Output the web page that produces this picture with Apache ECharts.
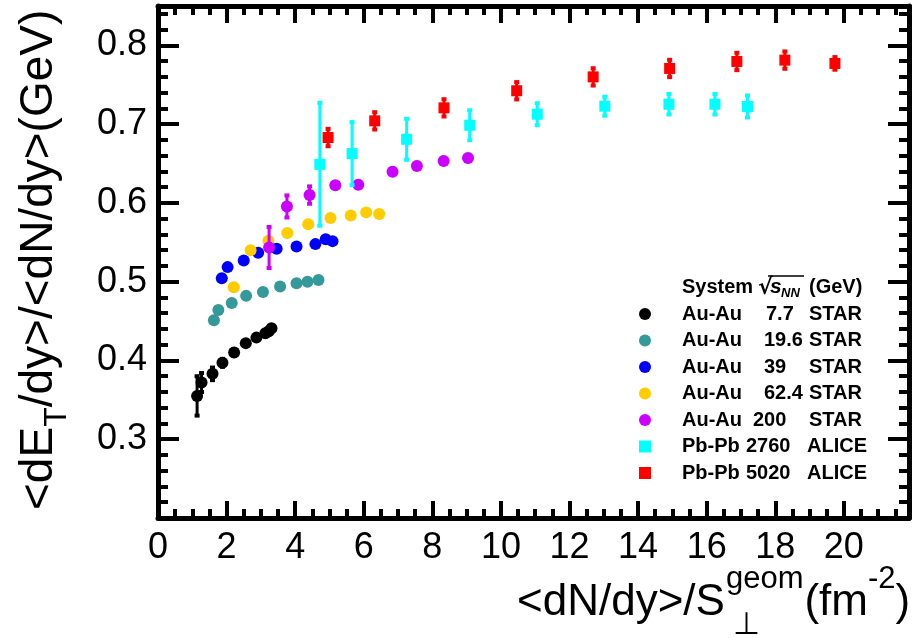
<!DOCTYPE html>
<html><head><meta charset="utf-8">
<script src="https://cdn.jsdelivr.net/npm/echarts@6/dist/echarts.min.js"></script>
<style>html,body{margin:0;padding:0;background:#fff}#c{width:915px;height:638px}</style>
</head><body><div id="c"></div>
<script>
// ---- data ----
const systems = ['Au-Au','Au-Au','Au-Au','Au-Au','Au-Au','Pb-Pb','Pb-Pb'];
const energies = ['7.7','19.6','39','62.4','200','2760','5020'];
const experiments = ['STAR','STAR','STAR','STAR','STAR','ALICE','ALICE'];

const x_7p7 = [1.14, 1.27, 1.59, 1.88, 2.22, 2.56, 2.87, 3.13, 3.23, 3.31];
const y_7p7 = [0.355, 0.372, 0.383, 0.397, 0.410, 0.422, 0.429, 0.4345, 0.437, 0.441];
const e_7p7 = [0.025, 0.012, 0.008, 0.005, 0.004, 0.004, 0.004, 0.004, 0.004, 0.004];

const x_19p6 = [1.63, 1.76, 2.15, 2.57, 3.06, 3.56, 4.04, 4.36, 4.68];
const y_19p6 = [0.451, 0.464, 0.473, 0.482, 0.487, 0.494, 0.498, 0.500, 0.502];
const e_19p6 = [0.003, 0.003, 0.003, 0.003, 0.003, 0.003, 0.003, 0.003, 0.003];

const x_39 = [1.86, 2.03, 2.50, 2.92, 3.46, 4.04, 4.59, 4.89, 5.09];
const y_39 = [0.5045, 0.5185, 0.527, 0.5366, 0.5417, 0.5447, 0.5477, 0.554, 0.5515];
const e_39 = [0.003, 0.003, 0.003, 0.003, 0.003, 0.003, 0.003, 0.003, 0.003];

const x_62p4 = [2.21, 2.70, 3.22, 3.77, 4.38, 5.03, 5.62, 6.07, 6.45];
const y_62p4 = [0.493, 0.540, 0.552, 0.5617, 0.573, 0.5808, 0.584, 0.588, 0.586];
const e_62p4 = [0.003, 0.003, 0.003, 0.003, 0.003, 0.003, 0.003, 0.003, 0.003];

const x_200 = [3.24, 3.76, 4.42, 5.17, 5.84, 6.84, 7.55, 8.33, 9.04];
const y_200 = [0.5434, 0.5955, 0.610, 0.6223, 0.623, 0.6397, 0.647, 0.6533, 0.657];
const e_200 = [0.026, 0.014, 0.011, 0.004, 0.004, 0.004, 0.004, 0.004, 0.004];

const x_2760 = [4.72, 5.66, 7.25, 9.09, 11.06, 13.03, 14.90, 16.24, 17.19];
const y_2760 = [0.649, 0.6626, 0.6808, 0.6986, 0.7126, 0.7228, 0.7253, 0.7253, 0.7224];
const e_2760 = [0.078, 0.040, 0.026, 0.019, 0.014, 0.012, 0.013, 0.013, 0.014];

const x_5020 = [4.96, 6.32, 8.34, 10.46, 12.69, 14.92, 16.88, 18.28, 19.74];
const y_5020 = [0.683, 0.7042, 0.7207, 0.7424, 0.760, 0.7707, 0.7796, 0.7813, 0.7771];
const e_5020 = [0.011, 0.011, 0.011, 0.011, 0.011, 0.011, 0.011, 0.011, 0.008];

const xTickValues = [0, 2, 4, 6, 8, 10, 12, 14, 16, 18, 20];
const yTickValues = [0.3, 0.4, 0.5, 0.6, 0.7, 0.8];

// ---- build ----
const FONT = '"Liberation Sans", Arial, Helvetica, sans-serif';
const NARROW = '"Liberation Sans Narrow", "Liberation Sans", Arial, sans-serif';
const sets = [
  {x: x_7p7, y: y_7p7, e: e_7p7, color: '#000000', symbol: 'circle'},
  {x: x_19p6, y: y_19p6, e: e_19p6, color: '#339999', symbol: 'circle'},
  {x: x_39, y: y_39, e: e_39, color: '#0000ff', symbol: 'circle'},
  {x: x_62p4, y: y_62p4, e: e_62p4, color: '#ffcc00', symbol: 'circle'},
  {x: x_200, y: y_200, e: e_200, color: '#cc00ff', symbol: 'circle'},
  {x: x_2760, y: y_2760, e: e_2760, color: '#00ffff', symbol: 'rect'},
  {x: x_5020, y: y_5020, e: e_5020, color: '#ff0000', symbol: 'rect'}
];
const names = systems.map((s, i) => s + ' ' + energies[i] + ' ' + experiments[i]);

function errRender(params, api) {
  const x = api.value(0), y = api.value(1), e = api.value(2);
  const p0 = api.coord([x, y - e]), p1 = api.coord([x, y + e]);
  const color = api.visual('color');
  return {type: 'group', children: [
    {type: 'line', shape: {x1: p0[0], y1: p0[1], x2: p1[0], y2: p1[1]}, style: {stroke: color, lineWidth: 3}},
    {type: 'rect', shape: {x: p0[0] - 2.5, y: p0[1] - 2, width: 5, height: 4}, style: {fill: color}},
    {type: 'rect', shape: {x: p1[0] - 2.5, y: p1[1] - 2, width: 5, height: 4}, style: {fill: color}}
  ]};
}

const series = [];
sets.forEach((s, i) => {
  series.push({
    type: 'custom', name: names[i] + ' err', renderItem: errRender,
    data: s.x.map((v, k) => [v, s.y[k], s.e[k]]),
    encode: {x: 0, y: 1}, itemStyle: {color: s.color}, z: 2 + 2 * i, silent: true
  });
  series.push({
    type: 'scatter', name: names[i], symbol: s.symbol,
    symbolSize: s.symbol === 'rect' ? 11 : 12,
    data: s.x.map((v, k) => [v, s.y[k]]),
    itemStyle: {color: s.color, opacity: 1}, z: 3 + 2 * i
  });
});

const legendOffsets = [20, 18, 18, 18, 7, 0, 0];
const numWidths = [43, 45, 45, 45, 56, 61, 61];
const rich = {p: {width: 26}, c1: {width: 64}, c3: {}};
legendOffsets.forEach(o => { rich['o' + o] = {width: o}; });
numWidths.forEach(w => { rich['n' + w] = {width: w}; });
Object.keys(rich).forEach(k => Object.assign(rich[k], {fontFamily: FONT, fontWeight: 'bold', fontSize: 20, color: '#000', lineHeight: 20}));

const mctx = document.createElement('canvas').getContext('2d');
function tw(t, size, weight, fam) { mctx.font = (weight || 'normal') + ' ' + size + 'px ' + (fam || FONT); return mctx.measureText(t).width; }

// y title pieces (rotated)
const YS = 46, YSUB = 32;
const yA = '<dE', yB = 'T', yC = '/dy>/<dN/dy>(GeV)';
const yAw = tw(yA, YS), yBw = tw(yB, YSUB);
const yTitle = {
  type: 'group', x: 39, y: 510, rotation: Math.PI / 2,
  children: [
    {type: 'text', x: 0, y: 0, style: {text: yA, font: YS + 'px ' + FONT, fill: '#000', verticalAlign: 'middle', align: 'left'}},
    {type: 'text', x: yAw, y: 18, style: {text: yB, font: YSUB + 'px ' + FONT, fill: '#000', verticalAlign: 'middle', align: 'left'}},
    {type: 'text', x: yAw + yBw, y: 0, style: {text: yC, font: YS + 'px ' + FONT, fill: '#000', verticalAlign: 'middle', align: 'left'}}
  ]
};

// x title pieces
const XS = 44, XSUP = 31;
const xA = '<dN/dy>/S', xC = '(fm', xE = ')';
const xAw = tw(xA, XS), stackW = Math.max(tw('geom', XSUP), tw('\u22A5', XSUP)), xCw = tw(xC, XS), xDw = tw('-2', XSUP);
const xMid = 603;
const x0 = 517;
const xTitle = {
  type: 'group', x: x0, y: xMid,
  children: [
    {type: 'text', x: 0, y: 0, style: {text: xA, font: XS + 'px ' + FONT, fill: '#000', verticalAlign: 'middle'}},
    {type: 'text', x: xAw + 8, y: 22, style: {text: '\u22A5', font: XSUP + 'px ' + FONT, fill: '#000', verticalAlign: 'middle'}},
    {type: 'text', x: xAw + 1, y: -24, style: {text: 'geom', font: XSUP + 'px ' + FONT, fill: '#000', verticalAlign: 'middle'}},
    {type: 'text', x: xAw + stackW + 2, y: 0, style: {text: xC, font: XS + 'px ' + FONT, fill: '#000', verticalAlign: 'middle'}},
    {type: 'text', x: xAw + stackW + 2 + xCw, y: -24, style: {text: '-2', font: XSUP + 'px ' + FONT, fill: '#000', verticalAlign: 'middle'}},
    {type: 'text', x: xAw + stackW + 2 + xCw + xDw, y: 0, style: {text: xE, font: XS + 'px ' + FONT, fill: '#000', verticalAlign: 'middle'}}
  ]
};

// legend header
const header = {
  type: 'group', x: 682, y: 287,
  children: [
    {type: 'text', x: 0, y: 0, style: {text: 'System', font: 'bold 20px ' + FONT, fill: '#000', verticalAlign: 'middle'}},
    {type: 'text', x: 76, y: 1, style: {text: '\u221A', font: 'bold 22px "DejaVu Sans", ' + FONT, fill: '#000', verticalAlign: 'middle'}},
    {type: 'line', shape: {x1: 86, y1: -11, x2: 122, y2: -11}, style: {stroke: '#000', lineWidth: 1.5}},
    {type: 'text', x: 88, y: 0, style: {text: 's', font: 'italic bold 21px ' + FONT, fill: '#000', verticalAlign: 'middle'}},
    {type: 'text', x: 99, y: 6, style: {text: 'NN', font: 'italic bold 13px ' + FONT, fill: '#000', verticalAlign: 'middle'}},
    {type: 'text', x: 127, y: 0, style: {text: '(GeV)', font: 'bold 20px ' + FONT, fill: '#000', verticalAlign: 'middle'}}
  ]
};

const axisLineStyle = {color: '#000', width: 5};
function xAx(pos, labels) {
  return {
    type: 'value', position: pos, min: 0, max: 21.9, interval: 2,
    axisLine: {show: true, onZero: false, lineStyle: axisLineStyle},
    axisTick: {show: true, inside: true, length: 17, lineStyle: {color: '#000', width: 4}},
    minorTick: {show: true, splitNumber: 4, length: 9, lineStyle: {color: '#000', width: 4}},
    splitLine: {show: false}, minorSplitLine: {show: false},
    axisLabel: {show: labels, margin: 12, showMaxLabel: false, fontFamily: NARROW, fontSize: 36, color: '#000',
      formatter: v => xTickValues.indexOf(v) >= 0 ? String(v) : ''}
  };
}
function yAx(pos, labels) {
  return {
    type: 'value', position: pos, min: 0.2, max: 0.85, interval: 0.1,
    axisLine: {show: true, onZero: false, lineStyle: axisLineStyle},
    axisTick: {show: true, inside: true, length: 21, lineStyle: {color: '#000', width: 4}},
    minorTick: {show: true, splitNumber: 5, length: 10, lineStyle: {color: '#000', width: 4}},
    splitLine: {show: false}, minorSplitLine: {show: false},
    axisLabel: {show: labels, margin: 11, showMinLabel: false, showMaxLabel: false, fontFamily: FONT, fontSize: 36, color: '#000',
      formatter: v => { const r = Math.round(v * 10) / 10; return yTickValues.indexOf(r) >= 0 && Math.abs(r - v) < 1e-6 ? r.toFixed(1) : ''; }}
  };
}

const chart = echarts.init(document.getElementById('c'), null, {renderer: 'canvas'});
chart.setOption({
  animation: false,
  backgroundColor: '#fff',
  grid: {left: 158, top: 6, width: 751, height: 512, containLabel: false, outerBoundsMode: 'none'},
  xAxis: [xAx('bottom', true), xAx('top', false)],
  yAxis: [yAx('left', true), yAx('right', false)],
  legend: {
    data: names, orient: 'vertical', left: 639, top: 304, padding: 0,
    itemWidth: 12, itemHeight: 12, itemGap: 6.5, selectedMode: false,
    formatter: function (name) {
      const i = names.indexOf(name);
      const o = legendOffsets[i];
      return '{p| }{c1|' + systems[i] + '}' + (o ? '{o' + o + '| }' : '') + '{n' + numWidths[i] + '|' + energies[i] + '}{c3|' + experiments[i] + '}';
    },
    textStyle: {fontFamily: FONT, fontWeight: 'bold', fontSize: 20, color: '#000', lineHeight: 20, rich: rich}
  },
  graphic: [yTitle, xTitle, header],
  series: series
});
</script></body></html>
